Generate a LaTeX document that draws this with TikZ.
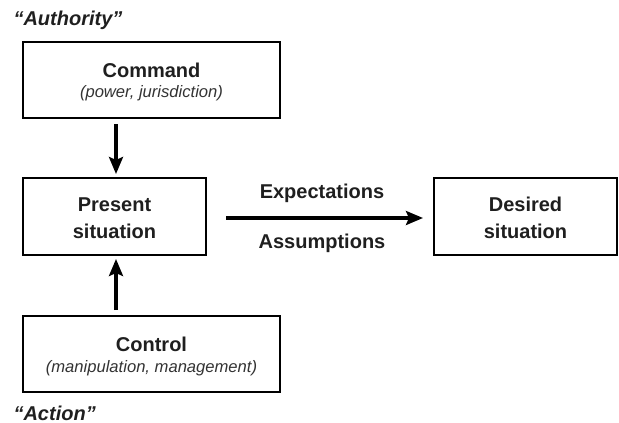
\documentclass[tikz,border=0pt]{standalone}
\usepackage{fontspec}
\setmainfont{Liberation Sans}
\usetikzlibrary{arrows.meta}
\begin{document}
\begin{tikzpicture}[x=1pt,y=-1pt,
  box/.style={draw=black,line width=1.5pt,inner sep=0pt},
  head/.style={font=\fontsize{20}{27}\selectfont\bfseries,text=black!88},
  sub/.style={font=\fontsize{16.6}{20}\selectfont\itshape,text=black!80},
  tag/.style={font=\fontsize{20}{24}\selectfont\bfseries\itshape,text=black!88,anchor=west},
  flow/.style={line width=3.2pt,-{Stealth[length=17pt,width=14pt,inset=3pt]}}]
\useasboundingbox (0,0) rectangle (619,423);
% boxes
\draw[box] (23,42) rectangle (280,118);
\node (cmd) at (151.5,80) {};
\draw[box] (23,178) rectangle (206,255);
\node (pres) at (114.5,216.5) {};
\draw[box] (23,316) rectangle (280,392);
\node (ctrl) at (151.5,354) {};
\draw[box] (434,178) rectangle (617,255);
\node (des) at (525.5,216.5) {};
% box texts
\node[head] (cmdt) at (151.5,70) {Command};
\node[sub] (cmds) at (151.5,93) {(power, jurisdiction)};
\node[head,align=center] (prest) at (114.5,218) {Present\\situation};
\node[head] (ctrlt) at (151.5,344) {Control};
\node[sub] (ctrls) at (151.5,368) {(manipulation, management)};
\node[head,align=center] (dest) at (525.5,218) {Desired\\situation};
% side tags
\node[tag] (auth) at (10,20) {“Authority”};
\node[tag] (act) at (10,413) {“Action”};
% connectors
\coordinate (a1) at (116,124);
\coordinate (a2) at (116,174);
\coordinate (b1) at (116,310);
\coordinate (b2) at (116,259);
\coordinate (c1) at (226,218);
\coordinate (c2) at (423,218);
\draw[flow] (a1) -- (a2);
\draw[flow] (b1) -- (b2);
\draw[flow] (c1) -- (c2);
\node[head] (exp) at (322,193) {Expectations};
\node[head] (ass) at (322,243) {Assumptions};
\end{tikzpicture}
\end{document}
